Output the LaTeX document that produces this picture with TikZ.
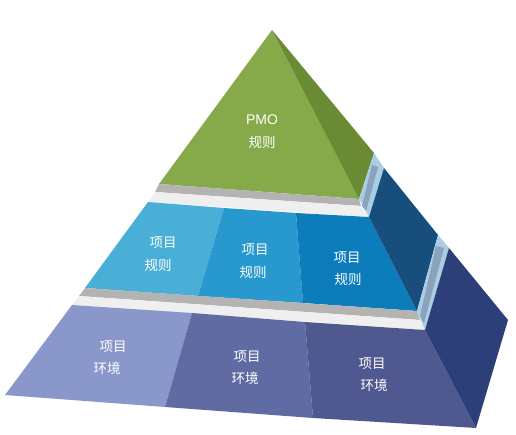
\documentclass[tikz,border=0pt]{standalone}
\usepackage{fontspec}
\usepackage{tikz}
\usepackage{color}
\newfontfamily\cjk{Noto Sans CJK SC}
\newfontfamily\latn{Liberation Sans}
\usetikzlibrary{positioning}

\definecolor{topgreen}{HTML}{86AA4A}
\definecolor{sidegreen}{HTML}{6A8A33}
\definecolor{slabgray}{HTML}{B3B3B3}
\definecolor{slabwhite}{HTML}{EFEFEF}
\definecolor{slabside}{HTML}{A9CDE3}
\definecolor{slabinner}{HTML}{8AA2BB}
\definecolor{ruleA}{HTML}{4AAFD6}
\definecolor{ruleB}{HTML}{2799CF}
\definecolor{ruleC}{HTML}{0C7CBB}
\definecolor{ruleside}{HTML}{174E7C}
\definecolor{envA}{HTML}{8A97CB}
\definecolor{envB}{HTML}{606BA3}
\definecolor{envC}{HTML}{4F598F}
\definecolor{envside}{HTML}{2C3F78}

\begin{document}
\begin{tikzpicture}[x=1pt,y=-1pt,
  label/.style={text=white,inner sep=0pt,font=\cjk\fontsize{13.5}{16}\selectfont},
  pmolabel/.style={text=white,inner sep=0pt,font=\latn\fontsize{14}{16}\selectfont}]
\useasboundingbox (0,0) rectangle (516,435);
% corners of the pyramid
\coordinate (apex) at (272,30);
\coordinate (g1) at (159,184);
\coordinate (g2) at (359,199);
\coordinate (g3) at (374,153);
\coordinate (b1) at (148,202);
\coordinate (b2) at (369,217);
\coordinate (b3) at (384,168);
\coordinate (b4) at (85,288);
\coordinate (b5) at (417,311);
\coordinate (b6) at (438,235);
\coordinate (p1) at (72,305);
\coordinate (p2) at (425,330);
\coordinate (p3) at (449,248);
\coordinate (p4) at (5,395);
\coordinate (p5) at (476,428);
\coordinate (p6) at (508,320);

% top: PMO
\fill[topgreen] (apex) -- (g2) -- (g1) -- cycle;
\fill[sidegreen] (apex) -- (g3) -- (g2) -- cycle;
% slab under the top
\fill[slabgray] (g1) -- (g2) -- (361,206) -- (155,192) -- cycle;
\fill[slabwhite] (155,192) -- (361,206) -- (b2) -- (b1) -- cycle;
\fill[slabside] (g2) -- (g3) -- (b3) -- (b2) -- cycle;
\fill[slabinner] (362,206) -- (372,165) -- (378,167) -- (366,211) -- cycle;

% middle: rules
\fill[ruleA] (b1) -- (224,208) -- (198,296) -- (b4) -- cycle;
\fill[ruleB] (224,208) -- (296,213) -- (303,303) -- (198,296) -- cycle;
\fill[ruleC] (296,213) -- (b2) -- (b5) -- (303,303) -- cycle;
\fill[ruleside] (b2) -- (b3) -- (b6) -- (b5) -- cycle;
% slab under the middle
\fill[slabgray] (b4) -- (b5) -- (420,320) -- (79,296) -- cycle;
\fill[slabwhite] (79,296) -- (420,320) -- (p2) -- (p1) -- cycle;
\fill[slabside] (b5) -- (b6) -- (p3) -- (p2) -- cycle;
\fill[slabinner] (420,316) -- (436,246) -- (444,248) -- (424,323) -- cycle;

% bottom: environments
\fill[envA] (p1) -- (192,313) -- (165,407) -- (p4) -- cycle;
\fill[envB] (192,313) -- (305,322) -- (313,418) -- (165,407) -- cycle;
\fill[envC] (305,322) -- (p2) -- (p5) -- (313,418) -- cycle;
\fill[envside] (p2) -- (p3) -- (p6) -- (p5) -- cycle;

% texts
\node at (262,120)[pmolabel](pmo){PMO};
\node at (262,142)[label](pmorule){规则};
\node at (163,243)[label](projA){项目};
\node at (158,265)[label](ruleAtxt){规则};
\node at (255,250)[label](projB){项目};
\node at (253,272)[label](ruleBtxt){规则};
\node at (347,258)[label](projC){项目};
\node at (348,279)[label](ruleCtxt){规则};
\node at (113,347)[label](projD){项目};
\node at (107,368)[label](envAtxt){环境};
\node at (247,357)[label](projE){项目};
\node at (245,378)[label](envBtxt){环境};
\node at (372,364)[label](projF){项目};
\node at (374,385)[label](envCtxt){环境};
\end{tikzpicture}
\end{document}
